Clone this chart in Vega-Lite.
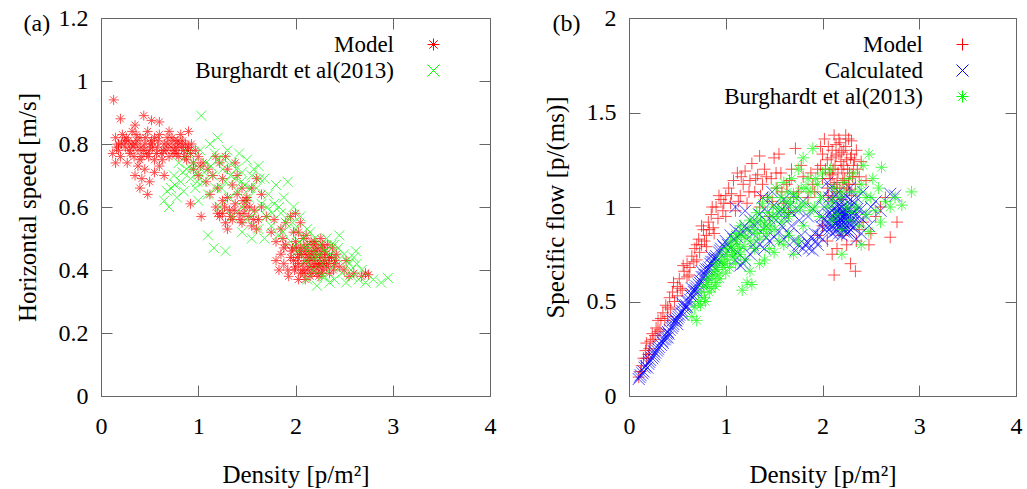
{
"$schema": "https://vega.github.io/schema/vega-lite/v6.json",
"padding": {"left": 14, "top": 5, "right": 5, "bottom": 5},
"spacing": 45,
"config": {
 "font": "Liberation Serif",
 "view": {"stroke": "#666", "strokeWidth": 1},
 "axis": {"labelFont": "Liberation Serif", "titleFont": "Liberation Serif", "labelFontSize": 24, "titleFontSize": 25, "titleFontWeight": "normal", "labelColor": "#000", "titleColor": "#000", "tickColor": "#666", "domainColor": "#666", "tickSize": -11, "grid": false, "labelFlush": false, "labelOverlap": false, "format": "~g"},
 "axisLeft": {"labelPadding": 24, "titlePadding": 18},
 "axisBottom": {"labelPadding": 29, "titlePadding": 24},
 "legend": {"labelFont": "Liberation Serif", "labelFontSize": 23, "labelLimit": 400, "labelColor": "#000"}
},
"datasets": {
"a": [
{"s":"Model","x":0.13,"y":0.94},{"s":"Model","x":0.2,"y":0.88},{"s":"Model","x":0.44,"y":0.89},{"s":"Model","x":0.52,"y":0.875},{"s":"Model","x":0.6,"y":0.87},{"s":"Model","x":0.12,"y":0.77},{"s":"Model","x":0.15,"y":0.74},{"s":"Model","x":0.35,"y":0.86},{"s":"Model","x":0.9,"y":0.84},
{"s":"Model","x":0.15,"y":0.82},{"s":"Model","x":0.18,"y":0.80},{"s":"Model","x":0.22,"y":0.83},{"s":"Model","x":0.25,"y":0.79},{"s":"Model","x":0.28,"y":0.81},{"s":"Model","x":0.3,"y":0.77},{"s":"Model","x":0.32,"y":0.84},{"s":"Model","x":0.35,"y":0.80},{"s":"Model","x":0.38,"y":0.78},{"s":"Model","x":0.4,"y":0.82},{"s":"Model","x":0.42,"y":0.76},{"s":"Model","x":0.45,"y":0.80},{"s":"Model","x":0.48,"y":0.84},{"s":"Model","x":0.5,"y":0.78},{"s":"Model","x":0.52,"y":0.81},{"s":"Model","x":0.55,"y":0.75},{"s":"Model","x":0.58,"y":0.79},{"s":"Model","x":0.6,"y":0.83},{"s":"Model","x":0.62,"y":0.77},{"s":"Model","x":0.65,"y":0.80},{"s":"Model","x":0.68,"y":0.82},{"s":"Model","x":0.7,"y":0.76},{"s":"Model","x":0.72,"y":0.79},{"s":"Model","x":0.75,"y":0.81},{"s":"Model","x":0.78,"y":0.77},{"s":"Model","x":0.8,"y":0.80},{"s":"Model","x":0.82,"y":0.83},{"s":"Model","x":0.85,"y":0.78},{"s":"Model","x":0.88,"y":0.75},{"s":"Model","x":0.9,"y":0.79},{"s":"Model","x":0.92,"y":0.77},{"s":"Model","x":0.95,"y":0.74},{"s":"Model","x":0.2,"y":0.76},{"s":"Model","x":0.27,"y":0.74},{"s":"Model","x":0.33,"y":0.79},{"s":"Model","x":0.4,"y":0.75},{"s":"Model","x":0.47,"y":0.77},{"s":"Model","x":0.55,"y":0.82},{"s":"Model","x":0.63,"y":0.75},{"s":"Model","x":0.7,"y":0.84},{"s":"Model","x":0.77,"y":0.79},{"s":"Model","x":0.84,"y":0.81},{"s":"Model","x":0.18,"y":0.78},{"s":"Model","x":0.24,"y":0.81},{"s":"Model","x":0.36,"y":0.83},{"s":"Model","x":0.44,"y":0.78},{"s":"Model","x":0.53,"y":0.79},{"s":"Model","x":0.67,"y":0.78},{"s":"Model","x":0.74,"y":0.77},{"s":"Model","x":0.8,"y":0.76},{"s":"Model","x":0.87,"y":0.80},{"s":"Model","x":0.97,"y":0.78},{"s":"Model","x":1.0,"y":0.76},{"s":"Model","x":1.02,"y":0.73},
{"s":"Model","x":0.16,"y":0.79},{"s":"Model","x":0.21,"y":0.8},{"s":"Model","x":0.26,"y":0.82},{"s":"Model","x":0.29,"y":0.78},{"s":"Model","x":0.31,"y":0.8},{"s":"Model","x":0.34,"y":0.76},{"s":"Model","x":0.37,"y":0.81},{"s":"Model","x":0.41,"y":0.79},{"s":"Model","x":0.46,"y":0.82},{"s":"Model","x":0.49,"y":0.76},{"s":"Model","x":0.51,"y":0.8},{"s":"Model","x":0.57,"y":0.77},{"s":"Model","x":0.59,"y":0.81},{"s":"Model","x":0.64,"y":0.78},{"s":"Model","x":0.69,"y":0.8},{"s":"Model","x":0.73,"y":0.82},{"s":"Model","x":0.76,"y":0.78},{"s":"Model","x":0.79,"y":0.81},{"s":"Model","x":0.83,"y":0.79},{"s":"Model","x":0.86,"y":0.76},{"s":"Model","x":0.89,"y":0.78},{"s":"Model","x":0.93,"y":0.8},
{"s":"Model","x":0.35,"y":0.70},{"s":"Model","x":0.4,"y":0.66},{"s":"Model","x":0.45,"y":0.72},{"s":"Model","x":0.5,"y":0.68},{"s":"Model","x":0.42,"y":0.69},{"s":"Model","x":0.55,"y":0.71},{"s":"Model","x":0.6,"y":0.73},{"s":"Model","x":0.48,"y":0.64},{"s":"Model","x":0.38,"y":0.73},{"s":"Model","x":0.65,"y":0.70},
{"s":"Model","x":0.95,"y":0.72},{"s":"Model","x":1.0,"y":0.70},{"s":"Model","x":1.05,"y":0.74},{"s":"Model","x":1.08,"y":0.68},{"s":"Model","x":1.1,"y":0.72},{"s":"Model","x":1.15,"y":0.70},{"s":"Model","x":1.2,"y":0.66},{"s":"Model","x":1.12,"y":0.64},{"s":"Model","x":1.25,"y":0.69},{"s":"Model","x":1.3,"y":0.72},{"s":"Model","x":1.35,"y":0.67},{"s":"Model","x":1.4,"y":0.70},{"s":"Model","x":1.45,"y":0.66},{"s":"Model","x":1.5,"y":0.63},{"s":"Model","x":1.18,"y":0.76},{"s":"Model","x":1.28,"y":0.76},{"s":"Model","x":1.38,"y":0.74},{"s":"Model","x":0.92,"y":0.61},{"s":"Model","x":1.03,"y":0.57},{"s":"Model","x":1.22,"y":0.74},
{"s":"Model","x":1.18,"y":0.60},{"s":"Model","x":1.22,"y":0.57},{"s":"Model","x":1.25,"y":0.62},{"s":"Model","x":1.28,"y":0.55},{"s":"Model","x":1.32,"y":0.59},{"s":"Model","x":1.35,"y":0.56},{"s":"Model","x":1.38,"y":0.61},{"s":"Model","x":1.42,"y":0.58},{"s":"Model","x":1.45,"y":0.55},{"s":"Model","x":1.48,"y":0.60},{"s":"Model","x":1.52,"y":0.57},{"s":"Model","x":1.55,"y":0.54},{"s":"Model","x":1.58,"y":0.59},{"s":"Model","x":1.62,"y":0.56},{"s":"Model","x":1.3,"y":0.63},{"s":"Model","x":1.4,"y":0.64},{"s":"Model","x":1.5,"y":0.62},{"s":"Model","x":1.65,"y":0.60},{"s":"Model","x":1.7,"y":0.57},{"s":"Model","x":1.25,"y":0.58},{"s":"Model","x":1.6,"y":0.53},{"s":"Model","x":1.55,"y":0.66},{"s":"Model","x":1.6,"y":0.69},{"s":"Model","x":1.65,"y":0.64},
{"s":"Model","x":1.2,"y":0.58},{"s":"Model","x":1.27,"y":0.6},{"s":"Model","x":1.33,"y":0.57},{"s":"Model","x":1.37,"y":0.59},{"s":"Model","x":1.43,"y":0.56},{"s":"Model","x":1.47,"y":0.58},{"s":"Model","x":1.53,"y":0.6},{"s":"Model","x":1.57,"y":0.56},{"s":"Model","x":1.3,"y":0.53},{"s":"Model","x":1.46,"y":0.62},
{"s":"Model","x":1.75,"y":0.52},{"s":"Model","x":1.8,"y":0.49},{"s":"Model","x":1.78,"y":0.56},{"s":"Model","x":1.85,"y":0.53},{"s":"Model","x":1.88,"y":0.47},{"s":"Model","x":1.9,"y":0.55},{"s":"Model","x":1.95,"y":0.57},{"s":"Model","x":1.98,"y":0.52},{"s":"Model","x":2.0,"y":0.58},{"s":"Model","x":2.05,"y":0.55},
{"s":"Model","x":1.85,"y":0.45},{"s":"Model","x":1.88,"y":0.42},{"s":"Model","x":1.9,"y":0.48},{"s":"Model","x":1.92,"y":0.40},{"s":"Model","x":1.95,"y":0.44},{"s":"Model","x":1.97,"y":0.47},{"s":"Model","x":2.0,"y":0.41},{"s":"Model","x":2.0,"y":0.49},{"s":"Model","x":2.02,"y":0.44},{"s":"Model","x":2.05,"y":0.39},{"s":"Model","x":2.05,"y":0.47},{"s":"Model","x":2.08,"y":0.42},{"s":"Model","x":2.08,"y":0.50},{"s":"Model","x":2.1,"y":0.45},{"s":"Model","x":2.12,"y":0.40},{"s":"Model","x":2.12,"y":0.48},{"s":"Model","x":2.15,"y":0.43},{"s":"Model","x":2.15,"y":0.38},{"s":"Model","x":2.18,"y":0.46},{"s":"Model","x":2.18,"y":0.41},{"s":"Model","x":2.2,"y":0.49},{"s":"Model","x":2.2,"y":0.44},{"s":"Model","x":2.22,"y":0.39},{"s":"Model","x":2.22,"y":0.47},{"s":"Model","x":2.25,"y":0.42},{"s":"Model","x":2.25,"y":0.45},{"s":"Model","x":2.28,"y":0.40},{"s":"Model","x":2.28,"y":0.48},{"s":"Model","x":2.3,"y":0.43},{"s":"Model","x":2.3,"y":0.46},{"s":"Model","x":2.32,"y":0.41},{"s":"Model","x":2.35,"y":0.44},{"s":"Model","x":2.35,"y":0.39},{"s":"Model","x":2.38,"y":0.47},{"s":"Model","x":2.4,"y":0.42},{"s":"Model","x":2.42,"y":0.45},{"s":"Model","x":2.45,"y":0.41},{"s":"Model","x":1.93,"y":0.38},{"s":"Model","x":2.03,"y":0.37},{"s":"Model","x":2.1,"y":0.37},{"s":"Model","x":1.98,"y":0.43},{"s":"Model","x":2.06,"y":0.45},{"s":"Model","x":2.14,"y":0.44},{"s":"Model","x":2.24,"y":0.41},{"s":"Model","x":2.16,"y":0.49},{"s":"Model","x":2.26,"y":0.50},{"s":"Model","x":2.33,"y":0.48},{"s":"Model","x":1.87,"y":0.50},{"s":"Model","x":1.8,"y":0.43},{"s":"Model","x":1.83,"y":0.40},
{"s":"Model","x":1.96,"y":0.46},{"s":"Model","x":1.99,"y":0.40},{"s":"Model","x":2.01,"y":0.47},{"s":"Model","x":2.03,"y":0.42},{"s":"Model","x":2.04,"y":0.45},{"s":"Model","x":2.07,"y":0.40},{"s":"Model","x":2.09,"y":0.47},{"s":"Model","x":2.11,"y":0.43},{"s":"Model","x":2.13,"y":0.46},{"s":"Model","x":2.14,"y":0.41},{"s":"Model","x":2.16,"y":0.45},{"s":"Model","x":2.17,"y":0.39},{"s":"Model","x":2.19,"y":0.43},{"s":"Model","x":2.21,"y":0.46},{"s":"Model","x":2.23,"y":0.42},{"s":"Model","x":2.24,"y":0.38},{"s":"Model","x":2.26,"y":0.44},{"s":"Model","x":2.27,"y":0.47},{"s":"Model","x":2.29,"y":0.42},{"s":"Model","x":2.31,"y":0.45},{"s":"Model","x":2.34,"y":0.42},{"s":"Model","x":2.37,"y":0.44},{"s":"Model","x":2.39,"y":0.4},{"s":"Model","x":2.41,"y":0.43},{"s":"Model","x":2.11,"y":0.51},{"s":"Model","x":2.03,"y":0.52},{"s":"Model","x":2.19,"y":0.48},{"s":"Model","x":2.27,"y":0.39},{"s":"Model","x":2.09,"y":0.39},{"s":"Model","x":2.2,"y":0.41},
{"s":"Model","x":2.5,"y":0.40},{"s":"Model","x":2.55,"y":0.38},{"s":"Model","x":2.6,"y":0.39},{"s":"Model","x":2.68,"y":0.38},{"s":"Model","x":2.72,"y":0.39},{"s":"Model","x":2.75,"y":0.385},{"s":"Model","x":2.52,"y":0.43},
{"s":"Burghardt et al(2013)","x":0.65,"y":0.62},{"s":"Burghardt et al(2013)","x":0.7,"y":0.60},{"s":"Burghardt et al(2013)","x":0.72,"y":0.66},{"s":"Burghardt et al(2013)","x":0.75,"y":0.70},{"s":"Burghardt et al(2013)","x":0.78,"y":0.63},{"s":"Burghardt et al(2013)","x":0.8,"y":0.74},{"s":"Burghardt et al(2013)","x":0.82,"y":0.68},{"s":"Burghardt et al(2013)","x":0.85,"y":0.65},{"s":"Burghardt et al(2013)","x":0.88,"y":0.72},{"s":"Burghardt et al(2013)","x":0.9,"y":0.77},{"s":"Burghardt et al(2013)","x":0.92,"y":0.69},{"s":"Burghardt et al(2013)","x":0.95,"y":0.74},{"s":"Burghardt et al(2013)","x":0.97,"y":0.66},{"s":"Burghardt et al(2013)","x":1.0,"y":0.71},{"s":"Burghardt et al(2013)","x":1.0,"y":0.62},{"s":"Burghardt et al(2013)","x":1.02,"y":0.78},{"s":"Burghardt et al(2013)","x":1.03,"y":0.89},{"s":"Burghardt et al(2013)","x":1.05,"y":0.68},{"s":"Burghardt et al(2013)","x":1.08,"y":0.74},{"s":"Burghardt et al(2013)","x":1.1,"y":0.64},{"s":"Burghardt et al(2013)","x":1.1,"y":0.51},{"s":"Burghardt et al(2013)","x":1.12,"y":0.80},{"s":"Burghardt et al(2013)","x":1.15,"y":0.70},{"s":"Burghardt et al(2013)","x":1.16,"y":0.47},{"s":"Burghardt et al(2013)","x":1.18,"y":0.66},{"s":"Burghardt et al(2013)","x":1.2,"y":0.82},{"s":"Burghardt et al(2013)","x":1.2,"y":0.75},{"s":"Burghardt et al(2013)","x":1.22,"y":0.60},{"s":"Burghardt et al(2013)","x":1.25,"y":0.72},{"s":"Burghardt et al(2013)","x":1.28,"y":0.68},{"s":"Burghardt et al(2013)","x":1.28,"y":0.46},{"s":"Burghardt et al(2013)","x":1.3,"y":0.78},{"s":"Burghardt et al(2013)","x":1.32,"y":0.63},{"s":"Burghardt et al(2013)","x":1.35,"y":0.74},{"s":"Burghardt et al(2013)","x":1.35,"y":0.57},{"s":"Burghardt et al(2013)","x":1.38,"y":0.69},{"s":"Burghardt et al(2013)","x":1.4,"y":0.65},{"s":"Burghardt et al(2013)","x":1.42,"y":0.77},{"s":"Burghardt et al(2013)","x":1.45,"y":0.60},{"s":"Burghardt et al(2013)","x":1.45,"y":0.71},{"s":"Burghardt et al(2013)","x":1.48,"y":0.67},{"s":"Burghardt et al(2013)","x":1.5,"y":0.75},{"s":"Burghardt et al(2013)","x":1.5,"y":0.56},{"s":"Burghardt et al(2013)","x":1.52,"y":0.63},{"s":"Burghardt et al(2013)","x":1.55,"y":0.70},{"s":"Burghardt et al(2013)","x":1.58,"y":0.58},{"s":"Burghardt et al(2013)","x":1.6,"y":0.66},{"s":"Burghardt et al(2013)","x":1.62,"y":0.73},{"s":"Burghardt et al(2013)","x":1.62,"y":0.53},{"s":"Burghardt et al(2013)","x":1.65,"y":0.61},{"s":"Burghardt et al(2013)","x":1.68,"y":0.69},{"s":"Burghardt et al(2013)","x":1.68,"y":0.50},{"s":"Burghardt et al(2013)","x":1.7,"y":0.57},{"s":"Burghardt et al(2013)","x":1.72,"y":0.64},{"s":"Burghardt et al(2013)","x":1.75,"y":0.54},{"s":"Burghardt et al(2013)","x":1.78,"y":0.61},{"s":"Burghardt et al(2013)","x":1.8,"y":0.67},{"s":"Burghardt et al(2013)","x":1.82,"y":0.51},{"s":"Burghardt et al(2013)","x":1.85,"y":0.58},{"s":"Burghardt et al(2013)","x":1.88,"y":0.63},{"s":"Burghardt et al(2013)","x":1.9,"y":0.55},{"s":"Burghardt et al(2013)","x":1.92,"y":0.68},{"s":"Burghardt et al(2013)","x":1.95,"y":0.49},{"s":"Burghardt et al(2013)","x":1.98,"y":0.60},{"s":"Burghardt et al(2013)","x":2.0,"y":0.53},{"s":"Burghardt et al(2013)","x":2.02,"y":0.46},{"s":"Burghardt et al(2013)","x":2.05,"y":0.57},{"s":"Burghardt et al(2013)","x":2.08,"y":0.50},{"s":"Burghardt et al(2013)","x":2.1,"y":0.43},{"s":"Burghardt et al(2013)","x":2.12,"y":0.53},{"s":"Burghardt et al(2013)","x":2.15,"y":0.47},{"s":"Burghardt et al(2013)","x":2.18,"y":0.40},{"s":"Burghardt et al(2013)","x":2.2,"y":0.50},{"s":"Burghardt et al(2013)","x":2.22,"y":0.44},{"s":"Burghardt et al(2013)","x":2.22,"y":0.35},{"s":"Burghardt et al(2013)","x":2.25,"y":0.48},{"s":"Burghardt et al(2013)","x":2.28,"y":0.42},{"s":"Burghardt et al(2013)","x":2.3,"y":0.38},{"s":"Burghardt et al(2013)","x":2.32,"y":0.50},{"s":"Burghardt et al(2013)","x":2.35,"y":0.45},{"s":"Burghardt et al(2013)","x":2.38,"y":0.41},{"s":"Burghardt et al(2013)","x":2.4,"y":0.48},{"s":"Burghardt et al(2013)","x":2.42,"y":0.44},{"s":"Burghardt et al(2013)","x":2.45,"y":0.51},{"s":"Burghardt et al(2013)","x":2.48,"y":0.39},{"s":"Burghardt et al(2013)","x":2.5,"y":0.45},{"s":"Burghardt et al(2013)","x":2.52,"y":0.36},{"s":"Burghardt et al(2013)","x":2.55,"y":0.42},{"s":"Burghardt et al(2013)","x":2.58,"y":0.38},{"s":"Burghardt et al(2013)","x":2.6,"y":0.44},{"s":"Burghardt et al(2013)","x":2.62,"y":0.46},{"s":"Burghardt et al(2013)","x":2.65,"y":0.37},{"s":"Burghardt et al(2013)","x":2.68,"y":0.40},{"s":"Burghardt et al(2013)","x":2.72,"y":0.36},{"s":"Burghardt et al(2013)","x":2.8,"y":0.37},{"s":"Burghardt et al(2013)","x":2.88,"y":0.36},{"s":"Burghardt et al(2013)","x":2.95,"y":0.375},{"s":"Burghardt et al(2013)","x":2.12,"y":0.37},{"s":"Burghardt et al(2013)","x":2.35,"y":0.36},{"s":"Burghardt et al(2013)","x":1.45,"y":0.52},{"s":"Burghardt et al(2013)","x":1.55,"y":0.50},
{"s":"Burghardt et al(2013)","x":0.68,"y":0.65},{"s":"Burghardt et al(2013)","x":0.76,"y":0.67},{"s":"Burghardt et al(2013)","x":0.84,"y":0.71},{"s":"Burghardt et al(2013)","x":0.93,"y":0.72},{"s":"Burghardt et al(2013)","x":0.99,"y":0.68},{"s":"Burghardt et al(2013)","x":1.06,"y":0.71},{"s":"Burghardt et al(2013)","x":1.13,"y":0.73},{"s":"Burghardt et al(2013)","x":1.17,"y":0.77},{"s":"Burghardt et al(2013)","x":1.24,"y":0.66},{"s":"Burghardt et al(2013)","x":1.27,"y":0.75},{"s":"Burghardt et al(2013)","x":1.33,"y":0.7},{"s":"Burghardt et al(2013)","x":1.39,"y":0.72},{"s":"Burghardt et al(2013)","x":1.44,"y":0.68},{"s":"Burghardt et al(2013)","x":1.53,"y":0.66},{"s":"Burghardt et al(2013)","x":1.57,"y":0.72},{"s":"Burghardt et al(2013)","x":1.63,"y":0.69},{"s":"Burghardt et al(2013)","x":1.71,"y":0.6},{"s":"Burghardt et al(2013)","x":1.76,"y":0.58},{"s":"Burghardt et al(2013)","x":1.83,"y":0.6},{"s":"Burghardt et al(2013)","x":1.87,"y":0.52},{"s":"Burghardt et al(2013)","x":1.93,"y":0.57},{"s":"Burghardt et al(2013)","x":1.97,"y":0.55},{"s":"Burghardt et al(2013)","x":2.04,"y":0.49},{"s":"Burghardt et al(2013)","x":2.1,"y":0.47},{"s":"Burghardt et al(2013)","x":2.17,"y":0.44},{"s":"Burghardt et al(2013)","x":2.24,"y":0.45},{"s":"Burghardt et al(2013)","x":2.3,"y":0.46},{"s":"Burghardt et al(2013)","x":2.37,"y":0.48},{"s":"Burghardt et al(2013)","x":2.44,"y":0.47},{"s":"Burghardt et al(2013)","x":2.53,"y":0.43},{"s":"Burghardt et al(2013)","x":2.57,"y":0.4},{"s":"Burghardt et al(2013)","x":2.63,"y":0.42},{"s":"Burghardt et al(2013)","x":2.15,"y":0.52},{"s":"Burghardt et al(2013)","x":2.27,"y":0.38},{"s":"Burghardt et al(2013)","x":2.4,"y":0.37}
],
"b": [
{"s":"Model","x":0.1,"y":0.1},{"s":"Model","x":0.13,"y":0.16},{"s":"Model","x":0.15,"y":0.2},{"s":"Model","x":0.18,"y":0.28},{"s":"Model","x":0.2,"y":0.22},{"s":"Model","x":0.22,"y":0.29},{"s":"Model","x":0.25,"y":0.3},{"s":"Model","x":0.28,"y":0.36},{"s":"Model","x":0.3,"y":0.4},{"s":"Model","x":0.32,"y":0.35},{"s":"Model","x":0.35,"y":0.44},{"s":"Model","x":0.38,"y":0.48},{"s":"Model","x":0.4,"y":0.42},{"s":"Model","x":0.42,"y":0.52},{"s":"Model","x":0.45,"y":0.55},{"s":"Model","x":0.47,"y":0.5},{"s":"Model","x":0.5,"y":0.58},{"s":"Model","x":0.52,"y":0.62},{"s":"Model","x":0.55,"y":0.56},{"s":"Model","x":0.57,"y":0.66},{"s":"Model","x":0.6,"y":0.7},{"s":"Model","x":0.62,"y":0.64},{"s":"Model","x":0.65,"y":0.74},{"s":"Model","x":0.68,"y":0.78},{"s":"Model","x":0.7,"y":0.72},{"s":"Model","x":0.72,"y":0.83},{"s":"Model","x":0.75,"y":0.8},{"s":"Model","x":0.77,"y":0.88},{"s":"Model","x":0.8,"y":0.85},{"s":"Model","x":0.82,"y":0.92},{"s":"Model","x":0.85,"y":0.96},{"s":"Model","x":0.87,"y":0.89},{"s":"Model","x":0.9,"y":1.0},{"s":"Model","x":0.92,"y":0.94},{"s":"Model","x":0.95,"y":1.04},{"s":"Model","x":0.97,"y":0.98},{"s":"Model","x":1.0,"y":1.06},{"s":"Model","x":0.6,"y":0.63},{"s":"Model","x":0.5,"y":0.53},{"s":"Model","x":0.7,"y":0.8},{"s":"Model","x":0.8,"y":0.79},{"s":"Model","x":0.88,"y":0.86},{"s":"Model","x":0.4,"y":0.47},{"s":"Model","x":0.3,"y":0.34},{"s":"Model","x":0.18,"y":0.2},
{"s":"Model","x":0.12,"y":0.13},{"s":"Model","x":0.17,"y":0.24},{"s":"Model","x":0.21,"y":0.25},{"s":"Model","x":0.24,"y":0.33},{"s":"Model","x":0.27,"y":0.32},{"s":"Model","x":0.33,"y":0.41},{"s":"Model","x":0.37,"y":0.4},{"s":"Model","x":0.43,"y":0.46},{"s":"Model","x":0.46,"y":0.6},{"s":"Model","x":0.53,"y":0.57},{"s":"Model","x":0.56,"y":0.69},{"s":"Model","x":0.63,"y":0.68},{"s":"Model","x":0.67,"y":0.71},{"s":"Model","x":0.73,"y":0.76},{"s":"Model","x":0.78,"y":0.82},{"s":"Model","x":0.83,"y":0.88},{"s":"Model","x":0.86,"y":1.0},{"s":"Model","x":0.93,"y":1.06},{"s":"Model","x":0.98,"y":1.02},{"s":"Model","x":0.75,"y":0.9},
{"s":"Model","x":1.0,"y":0.95},{"s":"Model","x":1.03,"y":1.1},{"s":"Model","x":1.05,"y":1.02},{"s":"Model","x":1.08,"y":1.14},{"s":"Model","x":1.1,"y":0.98},{"s":"Model","x":1.12,"y":1.18},{"s":"Model","x":1.15,"y":1.06},{"s":"Model","x":1.18,"y":1.12},{"s":"Model","x":1.2,"y":1.19},{"s":"Model","x":1.22,"y":1.02},{"s":"Model","x":1.25,"y":1.14},{"s":"Model","x":1.27,"y":1.23},{"s":"Model","x":1.3,"y":1.08},{"s":"Model","x":1.33,"y":1.17},{"s":"Model","x":1.35,"y":1.0},{"s":"Model","x":1.38,"y":1.12},{"s":"Model","x":1.4,"y":1.2},{"s":"Model","x":1.43,"y":1.05},{"s":"Model","x":1.47,"y":1.15},{"s":"Model","x":1.5,"y":1.26},{"s":"Model","x":1.53,"y":1.1},{"s":"Model","x":1.57,"y":1.18},{"s":"Model","x":1.6,"y":1.02},{"s":"Model","x":1.63,"y":1.12},{"s":"Model","x":1.68,"y":1.2},{"s":"Model","x":1.72,"y":1.31},{"s":"Model","x":1.75,"y":1.08},{"s":"Model","x":1.8,"y":1.16},{"s":"Model","x":1.85,"y":1.05},{"s":"Model","x":1.9,"y":1.12},{"s":"Model","x":1.55,"y":1.28},{"s":"Model","x":1.45,"y":0.95},{"s":"Model","x":1.65,"y":0.97},{"s":"Model","x":1.35,"y":1.27},
{"s":"Model","x":1.06,"y":1.07},{"s":"Model","x":1.13,"y":1.03},{"s":"Model","x":1.16,"y":1.16},{"s":"Model","x":1.24,"y":1.08},{"s":"Model","x":1.31,"y":1.15},{"s":"Model","x":1.36,"y":1.06},{"s":"Model","x":1.42,"y":1.16},{"s":"Model","x":1.48,"y":1.03},{"s":"Model","x":1.52,"y":1.18},{"s":"Model","x":1.58,"y":1.08},{"s":"Model","x":1.66,"y":1.14},{"s":"Model","x":1.7,"y":1.05},{"s":"Model","x":1.78,"y":1.22},{"s":"Model","x":1.88,"y":1.18},{"s":"Model","x":1.92,"y":1.08},
{"s":"Model","x":1.95,"y":1.2},{"s":"Model","x":1.98,"y":1.32},{"s":"Model","x":2.0,"y":1.15},{"s":"Model","x":2.02,"y":1.36},{"s":"Model","x":2.05,"y":1.25},{"s":"Model","x":2.07,"y":1.18},{"s":"Model","x":2.1,"y":1.3},{"s":"Model","x":2.12,"y":1.38},{"s":"Model","x":2.13,"y":1.22},{"s":"Model","x":2.15,"y":1.13},{"s":"Model","x":2.17,"y":1.28},{"s":"Model","x":2.18,"y":1.34},{"s":"Model","x":2.2,"y":1.2},{"s":"Model","x":2.22,"y":1.3},{"s":"Model","x":2.23,"y":1.15},{"s":"Model","x":2.25,"y":1.25},{"s":"Model","x":2.27,"y":1.36},{"s":"Model","x":2.28,"y":1.18},{"s":"Model","x":2.3,"y":1.28},{"s":"Model","x":2.32,"y":1.22},{"s":"Model","x":2.35,"y":1.3},{"s":"Model","x":2.38,"y":1.16},{"s":"Model","x":2.4,"y":1.24},{"s":"Model","x":2.05,"y":1.1},{"s":"Model","x":2.15,"y":1.08},{"s":"Model","x":2.25,"y":1.1},{"s":"Model","x":2.1,"y":1.05},{"s":"Model","x":2.2,"y":1.04},{"s":"Model","x":2.3,"y":1.06},{"s":"Model","x":2.45,"y":1.14},
{"s":"Model","x":1.98,"y":1.22},{"s":"Model","x":2.0,"y":1.28},{"s":"Model","x":2.03,"y":1.2},{"s":"Model","x":2.06,"y":1.32},{"s":"Model","x":2.08,"y":1.15},{"s":"Model","x":2.09,"y":1.26},{"s":"Model","x":2.11,"y":1.2},{"s":"Model","x":2.12,"y":1.12},{"s":"Model","x":2.14,"y":1.27},{"s":"Model","x":2.16,"y":1.18},{"s":"Model","x":2.17,"y":1.36},{"s":"Model","x":2.19,"y":1.24},{"s":"Model","x":2.21,"y":1.14},{"s":"Model","x":2.22,"y":1.22},{"s":"Model","x":2.24,"y":1.32},{"s":"Model","x":2.26,"y":1.2},{"s":"Model","x":2.27,"y":1.12},{"s":"Model","x":2.29,"y":1.26},{"s":"Model","x":2.31,"y":1.16},{"s":"Model","x":2.33,"y":1.25},{"s":"Model","x":2.36,"y":1.2},{"s":"Model","x":2.14,"y":1.33},{"s":"Model","x":2.24,"y":1.38},{"s":"Model","x":2.2,"y":1.29},{"s":"Model","x":2.1,"y":1.17},{"s":"Model","x":2.3,"y":1.35},{"s":"Model","x":2.06,"y":1.06},{"s":"Model","x":2.18,"y":1.1},{"s":"Model","x":2.28,"y":1.09},{"s":"Model","x":2.34,"y":1.12},
{"s":"Model","x":2.0,"y":0.9},{"s":"Model","x":2.05,"y":0.82},{"s":"Model","x":2.1,"y":0.75},{"s":"Model","x":2.12,"y":0.64},{"s":"Model","x":2.15,"y":0.78},{"s":"Model","x":2.2,"y":0.85},{"s":"Model","x":2.25,"y":0.8},{"s":"Model","x":2.29,"y":0.70},{"s":"Model","x":2.34,"y":0.66},{"s":"Model","x":2.38,"y":0.88},{"s":"Model","x":2.42,"y":0.92},{"s":"Model","x":2.48,"y":0.8},{"s":"Model","x":2.5,"y":0.86},{"s":"Model","x":2.55,"y":0.95},{"s":"Model","x":2.6,"y":1.0},{"s":"Model","x":2.7,"y":0.84},{"s":"Model","x":2.77,"y":0.92},{"s":"Model","x":2.65,"y":1.05},{"s":"Model","x":1.95,"y":0.85},{"s":"Model","x":2.35,"y":0.82},
{"s":"Calculated","x":0.1,"y":0.09},{"s":"Calculated","x":0.12,"y":0.11},{"s":"Calculated","x":0.15,"y":0.13},{"s":"Calculated","x":0.17,"y":0.16},{"s":"Calculated","x":0.2,"y":0.17},{"s":"Calculated","x":0.22,"y":0.19},{"s":"Calculated","x":0.25,"y":0.21},{"s":"Calculated","x":0.27,"y":0.23},{"s":"Calculated","x":0.3,"y":0.25},{"s":"Calculated","x":0.33,"y":0.27},{"s":"Calculated","x":0.35,"y":0.3},{"s":"Calculated","x":0.38,"y":0.31},{"s":"Calculated","x":0.4,"y":0.34},{"s":"Calculated","x":0.42,"y":0.35},{"s":"Calculated","x":0.45,"y":0.37},{"s":"Calculated","x":0.48,"y":0.4},{"s":"Calculated","x":0.5,"y":0.41},{"s":"Calculated","x":0.52,"y":0.43},{"s":"Calculated","x":0.55,"y":0.45},{"s":"Calculated","x":0.58,"y":0.47},{"s":"Calculated","x":0.6,"y":0.5},{"s":"Calculated","x":0.63,"y":0.51},{"s":"Calculated","x":0.65,"y":0.54},{"s":"Calculated","x":0.68,"y":0.56},{"s":"Calculated","x":0.7,"y":0.58},{"s":"Calculated","x":0.73,"y":0.6},{"s":"Calculated","x":0.75,"y":0.63},{"s":"Calculated","x":0.78,"y":0.64},{"s":"Calculated","x":0.8,"y":0.67},{"s":"Calculated","x":0.83,"y":0.68},{"s":"Calculated","x":0.85,"y":0.71},{"s":"Calculated","x":0.88,"y":0.72},{"s":"Calculated","x":0.9,"y":0.74},{"s":"Calculated","x":0.93,"y":0.76},{"s":"Calculated","x":0.95,"y":0.78},{"s":"Calculated","x":0.98,"y":0.79},{"s":"Calculated","x":1.0,"y":0.82},{"s":"Calculated","x":0.45,"y":0.4},{"s":"Calculated","x":0.55,"y":0.49},{"s":"Calculated","x":0.65,"y":0.57},{"s":"Calculated","x":0.75,"y":0.66},{"s":"Calculated","x":0.85,"y":0.74},{"s":"Calculated","x":0.35,"y":0.28},{"s":"Calculated","x":0.25,"y":0.24},{"s":"Calculated","x":0.6,"y":0.47},{"s":"Calculated","x":0.7,"y":0.55},{"s":"Calculated","x":0.8,"y":0.64},{"s":"Calculated","x":0.92,"y":0.72},{"s":"Calculated","x":0.5,"y":0.38},{"s":"Calculated","x":0.4,"y":0.31},
{"s":"Calculated","x":0.11,"y":0.1},{"s":"Calculated","x":0.14,"y":0.12},{"s":"Calculated","x":0.16,"y":0.15},{"s":"Calculated","x":0.19,"y":0.15},{"s":"Calculated","x":0.21,"y":0.18},{"s":"Calculated","x":0.24,"y":0.2},{"s":"Calculated","x":0.26,"y":0.22},{"s":"Calculated","x":0.29,"y":0.24},{"s":"Calculated","x":0.31,"y":0.26},{"s":"Calculated","x":0.34,"y":0.29},{"s":"Calculated","x":0.37,"y":0.3},{"s":"Calculated","x":0.39,"y":0.33},{"s":"Calculated","x":0.41,"y":0.33},{"s":"Calculated","x":0.44,"y":0.36},{"s":"Calculated","x":0.46,"y":0.38},{"s":"Calculated","x":0.49,"y":0.4},{"s":"Calculated","x":0.51,"y":0.42},{"s":"Calculated","x":0.54,"y":0.44},{"s":"Calculated","x":0.57,"y":0.46},{"s":"Calculated","x":0.59,"y":0.48},{"s":"Calculated","x":0.62,"y":0.5},{"s":"Calculated","x":0.64,"y":0.53},{"s":"Calculated","x":0.67,"y":0.55},{"s":"Calculated","x":0.69,"y":0.57},{"s":"Calculated","x":0.72,"y":0.59},{"s":"Calculated","x":0.74,"y":0.61},{"s":"Calculated","x":0.77,"y":0.63},{"s":"Calculated","x":0.79,"y":0.66},{"s":"Calculated","x":0.82,"y":0.67},{"s":"Calculated","x":0.84,"y":0.7},{"s":"Calculated","x":0.87,"y":0.71},{"s":"Calculated","x":0.89,"y":0.73},{"s":"Calculated","x":0.94,"y":0.77},{"s":"Calculated","x":0.97,"y":0.8},{"s":"Calculated","x":0.56,"y":0.43},{"s":"Calculated","x":0.66,"y":0.52},{"s":"Calculated","x":0.76,"y":0.6},{"s":"Calculated","x":0.86,"y":0.69},
{"s":"Calculated","x":1.05,"y":0.85},{"s":"Calculated","x":1.1,"y":0.88},{"s":"Calculated","x":1.15,"y":0.86},{"s":"Calculated","x":1.2,"y":0.9},{"s":"Calculated","x":1.25,"y":0.93},{"s":"Calculated","x":1.3,"y":0.9},{"s":"Calculated","x":1.35,"y":0.96},{"s":"Calculated","x":1.4,"y":0.99},{"s":"Calculated","x":1.45,"y":0.94},{"s":"Calculated","x":1.5,"y":1.01},{"s":"Calculated","x":1.55,"y":0.97},{"s":"Calculated","x":1.6,"y":1.04},{"s":"Calculated","x":1.65,"y":1.0},{"s":"Calculated","x":1.7,"y":1.06},{"s":"Calculated","x":1.38,"y":1.05},{"s":"Calculated","x":1.48,"y":1.08},{"s":"Calculated","x":1.75,"y":0.98},{"s":"Calculated","x":1.8,"y":1.03},{"s":"Calculated","x":1.1,"y":1.0},{"s":"Calculated","x":1.2,"y":0.98},
{"s":"Calculated","x":1.02,"y":0.8},{"s":"Calculated","x":1.08,"y":0.83},{"s":"Calculated","x":1.12,"y":0.84},{"s":"Calculated","x":1.18,"y":0.87},{"s":"Calculated","x":1.22,"y":0.88},{"s":"Calculated","x":1.28,"y":0.86},{"s":"Calculated","x":1.32,"y":0.92},{"s":"Calculated","x":1.42,"y":0.9},{"s":"Calculated","x":1.52,"y":0.93},{"s":"Calculated","x":1.58,"y":0.99},{"s":"Calculated","x":1.62,"y":0.95},{"s":"Calculated","x":1.68,"y":0.97},{"s":"Calculated","x":1.78,"y":0.85},{"s":"Calculated","x":1.82,"y":0.8},{"s":"Calculated","x":1.86,"y":0.78},{"s":"Calculated","x":1.93,"y":0.82},{"s":"Calculated","x":1.96,"y":0.85},{"s":"Calculated","x":1.12,"y":0.76},{"s":"Calculated","x":1.18,"y":0.7},{"s":"Calculated","x":1.28,"y":0.8},{"s":"Calculated","x":1.42,"y":0.84},{"s":"Calculated","x":1.58,"y":0.9},{"s":"Calculated","x":1.68,"y":0.9},{"s":"Calculated","x":1.76,"y":0.93},{"s":"Calculated","x":1.85,"y":0.95},{"s":"Calculated","x":1.9,"y":0.99},
{"s":"Calculated","x":1.05,"y":0.78},{"s":"Calculated","x":1.1,"y":0.72},{"s":"Calculated","x":1.15,"y":0.69},{"s":"Calculated","x":1.2,"y":0.72},{"s":"Calculated","x":1.25,"y":0.75},{"s":"Calculated","x":1.3,"y":0.77},{"s":"Calculated","x":1.35,"y":0.8},{"s":"Calculated","x":1.4,"y":0.78},{"s":"Calculated","x":1.45,"y":0.82},{"s":"Calculated","x":1.5,"y":0.84},{"s":"Calculated","x":1.55,"y":0.87},{"s":"Calculated","x":1.6,"y":0.83},{"s":"Calculated","x":1.65,"y":0.86},{"s":"Calculated","x":1.7,"y":0.82},{"s":"Calculated","x":1.75,"y":0.8},{"s":"Calculated","x":1.8,"y":0.78},{"s":"Calculated","x":1.85,"y":0.81},{"s":"Calculated","x":1.9,"y":0.77},{"s":"Calculated","x":1.95,"y":0.8},{"s":"Calculated","x":2.0,"y":0.83},{"s":"Calculated","x":1.72,"y":0.77},{"s":"Calculated","x":1.88,"y":0.84},{"s":"Calculated","x":1.92,"y":0.86},{"s":"Calculated","x":1.98,"y":0.9},
{"s":"Calculated","x":2.0,"y":0.95},{"s":"Calculated","x":2.02,"y":1.0},{"s":"Calculated","x":2.03,"y":0.88},{"s":"Calculated","x":2.05,"y":0.92},{"s":"Calculated","x":2.07,"y":1.05},{"s":"Calculated","x":2.08,"y":0.97},{"s":"Calculated","x":2.1,"y":0.9},{"s":"Calculated","x":2.1,"y":0.86},{"s":"Calculated","x":2.12,"y":1.02},{"s":"Calculated","x":2.13,"y":0.94},{"s":"Calculated","x":2.15,"y":0.98},{"s":"Calculated","x":2.15,"y":0.88},{"s":"Calculated","x":2.17,"y":1.08},{"s":"Calculated","x":2.18,"y":0.92},{"s":"Calculated","x":2.2,"y":1.0},{"s":"Calculated","x":2.2,"y":0.85},{"s":"Calculated","x":2.22,"y":0.95},{"s":"Calculated","x":2.23,"y":1.04},{"s":"Calculated","x":2.25,"y":0.9},{"s":"Calculated","x":2.25,"y":0.98},{"s":"Calculated","x":2.27,"y":0.87},{"s":"Calculated","x":2.28,"y":1.1},{"s":"Calculated","x":2.3,"y":0.94},{"s":"Calculated","x":2.3,"y":1.01},{"s":"Calculated","x":2.32,"y":0.89},{"s":"Calculated","x":2.33,"y":0.97},{"s":"Calculated","x":2.35,"y":1.05},{"s":"Calculated","x":2.37,"y":0.92},{"s":"Calculated","x":2.4,"y":0.99},{"s":"Calculated","x":2.42,"y":1.08},{"s":"Calculated","x":2.45,"y":0.95},{"s":"Calculated","x":2.12,"y":0.97},{"s":"Calculated","x":2.18,"y":0.96},{"s":"Calculated","x":2.22,"y":0.9},{"s":"Calculated","x":2.26,"y":0.94},{"s":"Calculated","x":2.16,"y":0.93},{"s":"Calculated","x":2.2,"y":0.97},{"s":"Calculated","x":2.24,"y":1.0},{"s":"Calculated","x":2.14,"y":1.03},{"s":"Calculated","x":2.08,"y":1.1},{"s":"Calculated","x":2.0,"y":1.05},{"s":"Calculated","x":2.05,"y":1.13},{"s":"Calculated","x":2.5,"y":1.0},{"s":"Calculated","x":2.55,"y":1.03},{"s":"Calculated","x":2.6,"y":0.98},{"s":"Calculated","x":2.7,"y":1.07},{"s":"Calculated","x":2.75,"y":1.06},{"s":"Calculated","x":2.48,"y":0.9},{"s":"Calculated","x":2.4,"y":0.86},{"s":"Calculated","x":2.35,"y":0.83},
{"s":"Calculated","x":2.04,"y":0.9},{"s":"Calculated","x":2.06,"y":0.96},{"s":"Calculated","x":2.09,"y":0.93},{"s":"Calculated","x":2.11,"y":0.99},{"s":"Calculated","x":2.13,"y":0.87},{"s":"Calculated","x":2.14,"y":0.91},{"s":"Calculated","x":2.16,"y":0.95},{"s":"Calculated","x":2.17,"y":1.01},{"s":"Calculated","x":2.19,"y":0.89},{"s":"Calculated","x":2.19,"y":0.94},{"s":"Calculated","x":2.21,"y":0.98},{"s":"Calculated","x":2.21,"y":0.92},{"s":"Calculated","x":2.23,"y":0.88},{"s":"Calculated","x":2.23,"y":0.96},{"s":"Calculated","x":2.24,"y":0.93},{"s":"Calculated","x":2.26,"y":0.99},{"s":"Calculated","x":2.27,"y":0.91},{"s":"Calculated","x":2.28,"y":0.95},{"s":"Calculated","x":2.29,"y":0.88},{"s":"Calculated","x":2.31,"y":0.97},{"s":"Calculated","x":2.32,"y":0.92},{"s":"Calculated","x":2.34,"y":0.95},{"s":"Calculated","x":2.36,"y":0.99},{"s":"Calculated","x":2.12,"y":0.92},{"s":"Calculated","x":2.15,"y":0.9},{"s":"Calculated","x":2.18,"y":0.99},{"s":"Calculated","x":2.2,"y":0.93},{"s":"Calculated","x":2.22,"y":0.87},{"s":"Calculated","x":2.25,"y":0.95},{"s":"Calculated","x":2.28,"y":0.92},{"s":"Calculated","x":2.3,"y":0.9},{"s":"Calculated","x":2.1,"y":0.95},{"s":"Calculated","x":2.07,"y":0.88},{"s":"Calculated","x":2.17,"y":0.86},{"s":"Calculated","x":2.26,"y":0.86},{"s":"Calculated","x":2.33,"y":1.02},{"s":"Calculated","x":2.02,"y":0.93},{"s":"Calculated","x":2.13,"y":1.06},{"s":"Calculated","x":2.24,"y":1.06},{"s":"Calculated","x":2.19,"y":1.04},{"s":"Calculated","x":2.29,"y":1.04},{"s":"Calculated","x":2.38,"y":0.95},{"s":"Calculated","x":2.14,"y":0.96},{"s":"Calculated","x":2.21,"y":0.95},{"s":"Calculated","x":2.27,"y":0.97},{"s":"Calculated","x":2.16,"y":0.98},{"s":"Calculated","x":2.23,"y":0.91},{"s":"Calculated","x":2.18,"y":0.9},
{"s":"Burghardt et al(2013)","x":0.65,"y":0.42},{"s":"Burghardt et al(2013)","x":0.68,"y":0.47},{"s":"Burghardt et al(2013)","x":0.7,"y":0.4},{"s":"Burghardt et al(2013)","x":0.72,"y":0.5},{"s":"Burghardt et al(2013)","x":0.75,"y":0.55},{"s":"Burghardt et al(2013)","x":0.78,"y":0.52},{"s":"Burghardt et al(2013)","x":0.8,"y":0.59},{"s":"Burghardt et al(2013)","x":0.82,"y":0.62},{"s":"Burghardt et al(2013)","x":0.85,"y":0.57},{"s":"Burghardt et al(2013)","x":0.88,"y":0.66},{"s":"Burghardt et al(2013)","x":0.9,"y":0.7},{"s":"Burghardt et al(2013)","x":0.92,"y":0.64},{"s":"Burghardt et al(2013)","x":0.95,"y":0.74},{"s":"Burghardt et al(2013)","x":0.97,"y":0.68},{"s":"Burghardt et al(2013)","x":1.0,"y":0.78},{"s":"Burghardt et al(2013)","x":1.02,"y":0.72},{"s":"Burghardt et al(2013)","x":1.05,"y":0.82},{"s":"Burghardt et al(2013)","x":1.07,"y":0.76},{"s":"Burghardt et al(2013)","x":1.1,"y":0.86},{"s":"Burghardt et al(2013)","x":1.12,"y":0.8},{"s":"Burghardt et al(2013)","x":1.15,"y":0.9},{"s":"Burghardt et al(2013)","x":1.17,"y":0.56},{"s":"Burghardt et al(2013)","x":1.2,"y":0.84},{"s":"Burghardt et al(2013)","x":1.22,"y":0.6},{"s":"Burghardt et al(2013)","x":1.25,"y":0.93},{"s":"Burghardt et al(2013)","x":1.27,"y":0.59},{"s":"Burghardt et al(2013)","x":1.3,"y":0.88},{"s":"Burghardt et al(2013)","x":1.32,"y":0.97},{"s":"Burghardt et al(2013)","x":1.35,"y":0.83},{"s":"Burghardt et al(2013)","x":1.38,"y":1.02},{"s":"Burghardt et al(2013)","x":1.4,"y":0.91},{"s":"Burghardt et al(2013)","x":1.42,"y":0.86},{"s":"Burghardt et al(2013)","x":1.45,"y":1.05},{"s":"Burghardt et al(2013)","x":1.48,"y":0.95},{"s":"Burghardt et al(2013)","x":1.5,"y":0.88},{"s":"Burghardt et al(2013)","x":1.52,"y":1.1},{"s":"Burghardt et al(2013)","x":1.55,"y":0.99},{"s":"Burghardt et al(2013)","x":1.58,"y":0.92},{"s":"Burghardt et al(2013)","x":1.6,"y":1.13},{"s":"Burghardt et al(2013)","x":1.62,"y":1.03},{"s":"Burghardt et al(2013)","x":1.65,"y":0.95},{"s":"Burghardt et al(2013)","x":1.68,"y":1.15},{"s":"Burghardt et al(2013)","x":1.7,"y":1.07},{"s":"Burghardt et al(2013)","x":1.72,"y":0.98},{"s":"Burghardt et al(2013)","x":1.75,"y":1.2},{"s":"Burghardt et al(2013)","x":1.78,"y":1.1},{"s":"Burghardt et al(2013)","x":1.8,"y":1.26},{"s":"Burghardt et al(2013)","x":1.82,"y":1.02},{"s":"Burghardt et al(2013)","x":1.85,"y":1.15},{"s":"Burghardt et al(2013)","x":1.88,"y":1.08},{"s":"Burghardt et al(2013)","x":1.9,"y":1.31},{"s":"Burghardt et al(2013)","x":1.92,"y":1.0},{"s":"Burghardt et al(2013)","x":1.95,"y":1.12},{"s":"Burghardt et al(2013)","x":1.98,"y":1.05},{"s":"Burghardt et al(2013)","x":1.7,"y":0.75},{"s":"Burghardt et al(2013)","x":1.75,"y":0.82},{"s":"Burghardt et al(2013)","x":1.1,"y":0.7},{"s":"Burghardt et al(2013)","x":1.15,"y":0.75},{"s":"Burghardt et al(2013)","x":1.2,"y":0.72},{"s":"Burghardt et al(2013)","x":1.3,"y":0.78},{"s":"Burghardt et al(2013)","x":1.0,"y":0.65},{"s":"Burghardt et al(2013)","x":0.9,"y":0.6},{"s":"Burghardt et al(2013)","x":2.0,"y":1.18},{"s":"Burghardt et al(2013)","x":2.05,"y":1.0},{"s":"Burghardt et al(2013)","x":2.1,"y":0.93},{"s":"Burghardt et al(2013)","x":2.12,"y":1.1},{"s":"Burghardt et al(2013)","x":2.15,"y":0.96},{"s":"Burghardt et al(2013)","x":2.18,"y":1.05},{"s":"Burghardt et al(2013)","x":2.2,"y":0.88},{"s":"Burghardt et al(2013)","x":2.2,"y":0.75},{"s":"Burghardt et al(2013)","x":2.22,"y":1.13},{"s":"Burghardt et al(2013)","x":2.25,"y":1.0},{"s":"Burghardt et al(2013)","x":2.28,"y":0.93},{"s":"Burghardt et al(2013)","x":2.3,"y":1.08},{"s":"Burghardt et al(2013)","x":2.32,"y":1.18},{"s":"Burghardt et al(2013)","x":2.35,"y":1.0},{"s":"Burghardt et al(2013)","x":2.38,"y":0.9},{"s":"Burghardt et al(2013)","x":2.4,"y":1.12},{"s":"Burghardt et al(2013)","x":2.42,"y":1.22},{"s":"Burghardt et al(2013)","x":2.45,"y":0.96},{"s":"Burghardt et al(2013)","x":2.48,"y":1.28},{"s":"Burghardt et al(2013)","x":2.48,"y":0.87},{"s":"Burghardt et al(2013)","x":2.5,"y":1.05},{"s":"Burghardt et al(2013)","x":2.52,"y":1.15},{"s":"Burghardt et al(2013)","x":2.55,"y":0.98},{"s":"Burghardt et al(2013)","x":2.58,"y":1.1},{"s":"Burghardt et al(2013)","x":2.61,"y":1.21},{"s":"Burghardt et al(2013)","x":2.65,"y":1.03},{"s":"Burghardt et al(2013)","x":2.7,"y":1.0},{"s":"Burghardt et al(2013)","x":2.75,"y":1.05},{"s":"Burghardt et al(2013)","x":2.82,"y":1.01},{"s":"Burghardt et al(2013)","x":2.92,"y":1.08},{"s":"Burghardt et al(2013)","x":2.6,"y":0.92},{"s":"Burghardt et al(2013)","x":2.4,"y":0.8},{"s":"Burghardt et al(2013)","x":2.08,"y":1.2},{"s":"Burghardt et al(2013)","x":1.6,"y":0.8},{"s":"Burghardt et al(2013)","x":1.5,"y":0.76},{"s":"Burghardt et al(2013)","x":1.4,"y":0.72},
{"s":"Burghardt et al(2013)","x":0.74,"y":0.48},{"s":"Burghardt et al(2013)","x":0.77,"y":0.58},{"s":"Burghardt et al(2013)","x":0.79,"y":0.5},{"s":"Burghardt et al(2013)","x":0.83,"y":0.55},{"s":"Burghardt et al(2013)","x":0.86,"y":0.63},{"s":"Burghardt et al(2013)","x":0.89,"y":0.58},{"s":"Burghardt et al(2013)","x":0.91,"y":0.67},{"s":"Burghardt et al(2013)","x":0.94,"y":0.62},{"s":"Burghardt et al(2013)","x":0.96,"y":0.71},{"s":"Burghardt et al(2013)","x":0.99,"y":0.7},{"s":"Burghardt et al(2013)","x":1.01,"y":0.75},{"s":"Burghardt et al(2013)","x":1.04,"y":0.68},{"s":"Burghardt et al(2013)","x":1.06,"y":0.79},{"s":"Burghardt et al(2013)","x":1.09,"y":0.74},{"s":"Burghardt et al(2013)","x":1.11,"y":0.83},{"s":"Burghardt et al(2013)","x":1.14,"y":0.78},{"s":"Burghardt et al(2013)","x":1.16,"y":0.85},{"s":"Burghardt et al(2013)","x":1.19,"y":0.79},{"s":"Burghardt et al(2013)","x":1.23,"y":0.88},{"s":"Burghardt et al(2013)","x":1.26,"y":0.82},{"s":"Burghardt et al(2013)","x":1.29,"y":0.92},{"s":"Burghardt et al(2013)","x":1.33,"y":0.86},{"s":"Burghardt et al(2013)","x":1.36,"y":0.93},{"s":"Burghardt et al(2013)","x":1.39,"y":0.88},{"s":"Burghardt et al(2013)","x":1.43,"y":0.97},{"s":"Burghardt et al(2013)","x":1.46,"y":0.9},{"s":"Burghardt et al(2013)","x":1.49,"y":1.0},{"s":"Burghardt et al(2013)","x":1.53,"y":0.95},{"s":"Burghardt et al(2013)","x":1.57,"y":1.05},{"s":"Burghardt et al(2013)","x":1.61,"y":0.98},{"s":"Burghardt et al(2013)","x":1.64,"y":1.08},{"s":"Burghardt et al(2013)","x":1.67,"y":1.02},{"s":"Burghardt et al(2013)","x":1.73,"y":1.05},{"s":"Burghardt et al(2013)","x":1.77,"y":1.0},{"s":"Burghardt et al(2013)","x":1.83,"y":1.1},{"s":"Burghardt et al(2013)","x":1.87,"y":0.98},{"s":"Burghardt et al(2013)","x":1.93,"y":1.15},{"s":"Burghardt et al(2013)","x":1.97,"y":0.95},{"s":"Burghardt et al(2013)","x":1.25,"y":0.66},{"s":"Burghardt et al(2013)","x":1.35,"y":0.7},{"s":"Burghardt et al(2013)","x":1.45,"y":0.78},{"s":"Burghardt et al(2013)","x":1.55,"y":0.82},{"s":"Burghardt et al(2013)","x":1.65,"y":0.85},{"s":"Burghardt et al(2013)","x":1.8,"y":0.9},{"s":"Burghardt et al(2013)","x":2.1,"y":1.03},{"s":"Burghardt et al(2013)","x":2.2,"y":1.08},{"s":"Burghardt et al(2013)","x":2.3,"y":0.97},{"s":"Burghardt et al(2013)","x":2.28,"y":1.15},{"s":"Burghardt et al(2013)","x":2.45,"y":1.05},{"s":"Burghardt et al(2013)","x":2.38,"y":1.08}
]
},
"hconcat": [
{
 "width": 389, "height": 378,
 "data": {"name": "a"},
 "layer": [
  {
   "mark": {"type": "point", "filled": false, "strokeWidth": 1, "opacity": 0.7, "size": 100},
   "encoding": {
    "x": {"field": "x", "type": "quantitative", "scale": {"domain": [0, 4]}, "axis": {"orient": "bottom", "values": [0, 1, 2, 3, 4], "title": "Density [p/m²]"}},
    "y": {"field": "y", "type": "quantitative", "scale": {"domain": [0, 1.2]}, "axis": {"orient": "left", "values": [0, 0.2, 0.4, 0.6, 0.8, 1, 1.2], "title": "Horizontal speed [m/s]"}},
    "color": {"field": "s", "type": "nominal", "scale": {"domain": ["Model", "Burghardt et al(2013)"], "range": ["#ff0000", "#00ff00"]},
      "legend": {"title": null, "orient": "none", "legendX": 321, "legendY": 15, "labelAlign": "right", "labelOffset": -51, "rowPadding": 2, "symbolSize": 144, "symbolStrokeWidth": 1, "symbolOpacity": 1, "padding": 0,
        "encode": {"symbols": {"update": {"shape": {"signal": "datum.value === 'Model' ? 'M-1,0H1M0,-1V1' : 'M-1,-1L1,1M-1,1L1,-1'"}, "stroke": {"signal": "datum.value === 'Model' ? '#ff0000' : '#00ff00'"}, "fill": {"value": "transparent"}, "strokeWidth": {"value": 1}, "opacity": {"value": 1}}}}}},
    "shape": {"field": "s", "type": "nominal", "scale": {"domain": ["Model", "Burghardt et al(2013)"], "range": ["M-1,0H1M0,-1V1M-0.7,-0.7L0.7,0.7M-0.7,0.7L0.7,-0.7", "M-1,-1L1,1M-1,1L1,-1"]}, "legend": null}
   }
  },
  {
   "mark": {"type": "point", "opacity": 0},
   "encoding": {
    "x": {"field": "x", "type": "quantitative", "scale": {"domain": [0, 4]}, "axis": {"orient": "top", "values": [0, 1, 2, 3, 4], "labels": false, "domain": false, "title": "(a)", "titleX": -78, "titleY": 5, "titleAngle": 0, "titleAlign": "left", "titleBaseline": "middle", "titleFontSize": 24}},
    "y": {"field": "y", "type": "quantitative", "scale": {"domain": [0, 1.2]}, "axis": {"orient": "right", "values": [0, 0.2, 0.4, 0.6, 0.8, 1, 1.2], "labels": false, "domain": false, "title": null}}
   }
  }
 ],
 "resolve": {"axis": {"x": "independent", "y": "independent"}}
},
{
 "width": 387, "height": 378,
 "data": {"name": "b"},
 "layer": [
  {
   "mark": {"type": "point", "filled": false, "strokeWidth": 1, "opacity": 0.7, "size": 144},
   "encoding": {
    "x": {"field": "x", "type": "quantitative", "scale": {"domain": [0, 4]}, "axis": {"orient": "bottom", "values": [0, 1, 2, 3, 4], "title": "Density [p/m²]"}},
    "y": {"field": "y", "type": "quantitative", "scale": {"domain": [0, 2]}, "axis": {"orient": "left", "values": [0, 0.5, 1, 1.5, 2], "title": "Specific flow [p/(ms)]"}},
    "color": {"field": "s", "type": "nominal", "scale": {"domain": ["Model", "Calculated", "Burghardt et al(2013)"], "range": ["#ff0000", "#0000ff", "#00ff00"]},
      "legend": {"title": null, "orient": "none", "legendX": 322, "legendY": 15, "labelAlign": "right", "labelOffset": -51, "rowPadding": 2, "symbolSize": 144, "symbolStrokeWidth": 1, "symbolOpacity": 1, "padding": 0,
        "encode": {"symbols": {"update": {"shape": {"signal": "datum.value === 'Model' ? 'M-1,0H1M0,-1V1' : datum.value === 'Calculated' ? 'M-1,-1L1,1M-1,1L1,-1' : 'M-1,0H1M0,-1V1M-0.7,-0.7L0.7,0.7M-0.7,0.7L0.7,-0.7'"}, "stroke": {"signal": "datum.value === 'Model' ? '#ff0000' : datum.value === 'Calculated' ? '#0000ff' : '#00ff00'"}, "fill": {"value": "transparent"}, "strokeWidth": {"value": 1}, "opacity": {"value": 1}}}}}},
    "shape": {"field": "s", "type": "nominal", "scale": {"domain": ["Model", "Calculated", "Burghardt et al(2013)"], "range": ["M-1,0H1M0,-1V1", "M-1,-1L1,1M-1,1L1,-1", "M-1,0H1M0,-1V1M-0.7,-0.7L0.7,0.7M-0.7,0.7L0.7,-0.7"]}, "legend": null}
   }
  },
  {
   "mark": {"type": "point", "opacity": 0},
   "encoding": {
    "x": {"field": "x", "type": "quantitative", "scale": {"domain": [0, 4]}, "axis": {"orient": "top", "values": [0, 1, 2, 3, 4], "labels": false, "domain": false, "title": "(b)", "titleX": -77, "titleY": 5, "titleAngle": 0, "titleAlign": "left", "titleBaseline": "middle", "titleFontSize": 24}},
    "y": {"field": "y", "type": "quantitative", "scale": {"domain": [0, 2]}, "axis": {"orient": "right", "values": [0, 0.5, 1, 1.5, 2], "labels": false, "domain": false, "title": null}}
   }
  }
 ],
 "resolve": {"axis": {"x": "independent", "y": "independent"}}
}
],
"resolve": {"scale": {"color": "independent", "shape": "independent"}, "legend": {"color": "independent", "shape": "independent"}}
}
